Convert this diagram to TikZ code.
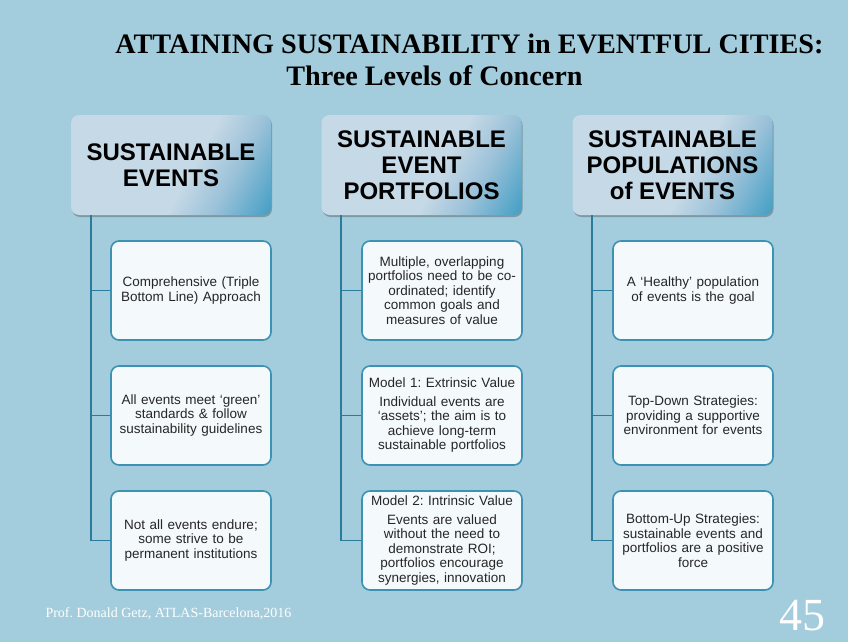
\documentclass[tikz,border=0pt]{standalone}
\usepackage{fontspec}
\setmainfont{Liberation Serif}
\setsansfont{Liberation Sans}
\usetikzlibrary{shadows}
\frenchspacing
\definecolor{bgc}{HTML}{A3CCDC}
\definecolor{linec}{HTML}{2A7B9C}
\definecolor{boxc}{HTML}{3D92B3}
\definecolor{boxf}{HTML}{F4F9FB}
\definecolor{txtc}{HTML}{262626}
\definecolor{hdl}{HTML}{C6D9E6}
\definecolor{hdm}{HTML}{9CC2D9}
\definecolor{hdd}{HTML}{2C95BF}
\pgfdeclarehorizontalshading{hdrshade}{100bp}{color(0bp)=(hdl); color(56bp)=(hdl); color(68bp)=(hdm); color(88bp)=(hdd); color(100bp)=(hdd)}
\begin{document}
\begin{tikzpicture}[x=1pt,y=-1pt,
  hdr/.style={rounded corners=8pt, minimum width=200pt, minimum height=100pt,
    shade, shading=hdrshade, shading angle=-29, align=center,
    font=\sffamily\bfseries\fontsize{24}{26}\selectfont, text=black,
    drop shadow={shadow xshift=1pt, shadow yshift=-2pt, opacity=.35, fill=black!70!bgc}},
  cbox/.style={draw=boxc, line width=1.6pt, fill=boxf, rounded corners=8pt,
    minimum width=160pt, minimum height=99pt, align=center, text width=152pt,
    font=\sffamily\fontsize{13.5}{14.5}\selectfont, text=txtc},
  conn/.style={draw=linec, line width=1.8pt},
  ttl/.style={anchor=base, font=\bfseries\fontsize{28.2}{30}\selectfont}]
\fill[bgc] (0,0) rectangle (848,642);
\useasboundingbox (0,0) rectangle (848,642);

\node[ttl] (t1) at (469.5,53) {ATTAINING SUSTAINABILITY in EVENTFUL CITIES:};
\node[ttl] (t2) at (434.5,85) {Three Levels of Concern};

% headers
\node[hdr] (h1) at (171,165) {SUSTAINABLE\\EVENTS};
\node[hdr] (h2) at (421.5,165) {SUSTAINABLE\\EVENT\\PORTFOLIOS};
\node[hdr] (h3) at (672.5,165) {SUSTAINABLE\\POPULATIONS\\of EVENTS};

% column 1
\node[cbox] (c11) at (191,290.5) {Comprehensive (Triple\\Bottom Line) Approach};
\node[cbox] (c12) at (191,415.5) {All events meet `green'\\standards \& follow\\sustainability guidelines};
\node[cbox] (c13) at (191,540.5) {Not all events endure;\\some strive to be\\permanent institutions};

% column 2
\node[cbox] (c21) at (442,290.5) {Multiple, overlapping\\portfolios need to be co-\\ordinated; identify\\common goals and\\measures of value};
\node[cbox] (c22) at (442,415.5) {Model 1: Extrinsic Value\\[4pt]Individual events are\\`assets'; the aim is to\\achieve long-term\\sustainable portfolios};
\node[cbox] (c23) at (442,540.5) {Model 2: Intrinsic Value\\[4pt]Events are valued\\without the need to\\demonstrate ROI;\\portfolios encourage\\synergies, innovation};

% column 3
\node[cbox] (c31) at (693,290.5) {A `Healthy' population\\of events is the goal};
\node[cbox] (c32) at (693,415.5) {Top-Down Strategies:\\providing a supportive\\environment for events};
\node[cbox] (c33) at (693,540.5) {Bottom-Up Strategies:\\sustainable events and\\portfolios are a positive\\force};

% connectors
\coordinate (v1) at ([xshift=20pt]h1.south west);
\coordinate (v2) at ([xshift=20pt]h2.south west);
\coordinate (v3) at ([xshift=20pt]h3.south west);
\foreach \c in {1,2,3}{
  \foreach \r in {1,2,3}{
    \draw[conn] (v\c) |- (c\c\r.west);
  }
}

% footer
\node[anchor=base west, text=white, font=\fontsize{14}{16}\selectfont] (foot) at (42,617) {Prof. Donald Getz, ATLAS-Barcelona,2016};
\node[anchor=base east, text=white, font=\fontsize{46}{50}\selectfont] (pg) at (829,630) {45};
\end{tikzpicture}
\end{document}
